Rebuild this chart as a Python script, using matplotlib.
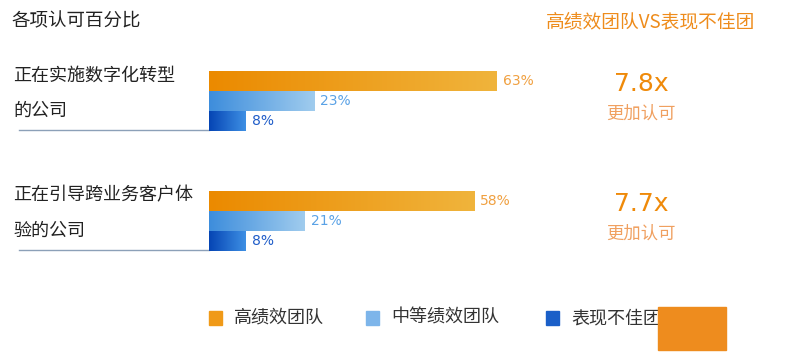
import numpy as np
import matplotlib
matplotlib.use('Agg')
import matplotlib.pyplot as plt
from matplotlib.colors import LinearSegmentedColormap
from matplotlib.patches import Rectangle

plt.rcParams['font.family'] = ['Noto Sans CJK SC', 'DejaVu Sans']

# Data
categories = ['正在实施数字化转型\n的公司', '正在引导跨业务客户体\n验的公司']
series = ['高绩效团队', '中等绩效团队', '表现不佳团队']
high = [63, 58]
mid = [23, 21]
low = [8, 8]
multiples = ['7.8x', '7.7x']
multiple_note = '更加认可'

# Gradient colours (left -> right) and label colours per series
grad_colors = [('#EB8A00', '#F0B43C'), ('#3D8DDC', '#A0CCEE'), ('#0545B4', '#3E8FE4')]
label_colors = ['#F0A040', '#5AA2E6', '#1E5CC8']
legend_colors = ['#F09A18', '#7DB5EA', '#1A5FC8']

W, H = 800, 361
fig = plt.figure(figsize=(W / 100, H / 100), dpi=100)

# bar axes: 0..100 % mapped to 457 px starting at x=209
ax = fig.add_axes([209 / W, 1 - 260 / H, 457 / W, 200 / H])
ax.axis('off')

values = [high, mid, low]
group_gap = 6
for i, cat in enumerate(categories):
    center = i * group_gap
    for j, vals in enumerate(values):
        v = vals[i]
        y = center + j - 1
        cmap = LinearSegmentedColormap.from_list('g%d' % j, grad_colors[j])
        ax.imshow(np.linspace(0, 1, 256).reshape(1, -1), cmap=cmap,
                  extent=[0, v, y + 0.5, y - 0.5], aspect='auto', zorder=2)
        ax.annotate(f'{v}%', xy=(v, y), xytext=(4.5, 0), textcoords='offset points',
                    ha='left', va='center', fontsize=10, color=label_colors[j],
                    family=['DejaVu Sans'])
    # underline of the category label
    ax.plot([-41.6, 0], [center + 1.45, center + 1.45], color='#8CA0B8', lw=1,
            clip_on=False, zorder=1)
    ax.text(-42.9, center - 0.4, cat, ha='left', va='center', fontsize=13,
            color='#222222', linespacing=2.25, clip_on=False)
    # multiples on the right
    ax.text(94.5, center - 0.85, multiples[i], ha='center', va='center', fontsize=18,
            color='#EF8A0A', family=['DejaVu Sans'], clip_on=False)
    ax.text(94.5, center + 0.65, multiple_note, ha='center', va='center', fontsize=12.5,
            color='#F0A060', clip_on=False)

ax.set_xlim(0, 100)
ax.set_ylim(7.95, -2.05)

# titles
fig.text(11 / W, 1 - 21 / H, '各项认可百分比', ha='left', va='center', fontsize=13.3,
         color='#222222')
fig.text(651 / W, 1 - 22 / H, '高绩效团队VS表现不佳团', ha='center', va='center',
         fontsize=13.5, color='#EE8C1C')

# legend
legend_x = [209, 366, 546]
for name, col, lx in zip(series, legend_colors, legend_x):
    fig.patches.append(Rectangle((lx / W, 1 - 325 / H), 13 / W, 14 / H,
                                 transform=fig.transFigure, color=col, figure=fig))
    fig.text((lx + 25) / W, 1 - 318 / H, name, ha='left', va='center', fontsize=13,
             color='#333333')

# watermark box
fig.patches.append(Rectangle((658 / W, 1 - 350 / H), 68 / W, 43 / H,
                             transform=fig.transFigure, color='#EE8C1E', figure=fig,
                             zorder=5))

fig.savefig('out.png', dpi=100, facecolor='white')
